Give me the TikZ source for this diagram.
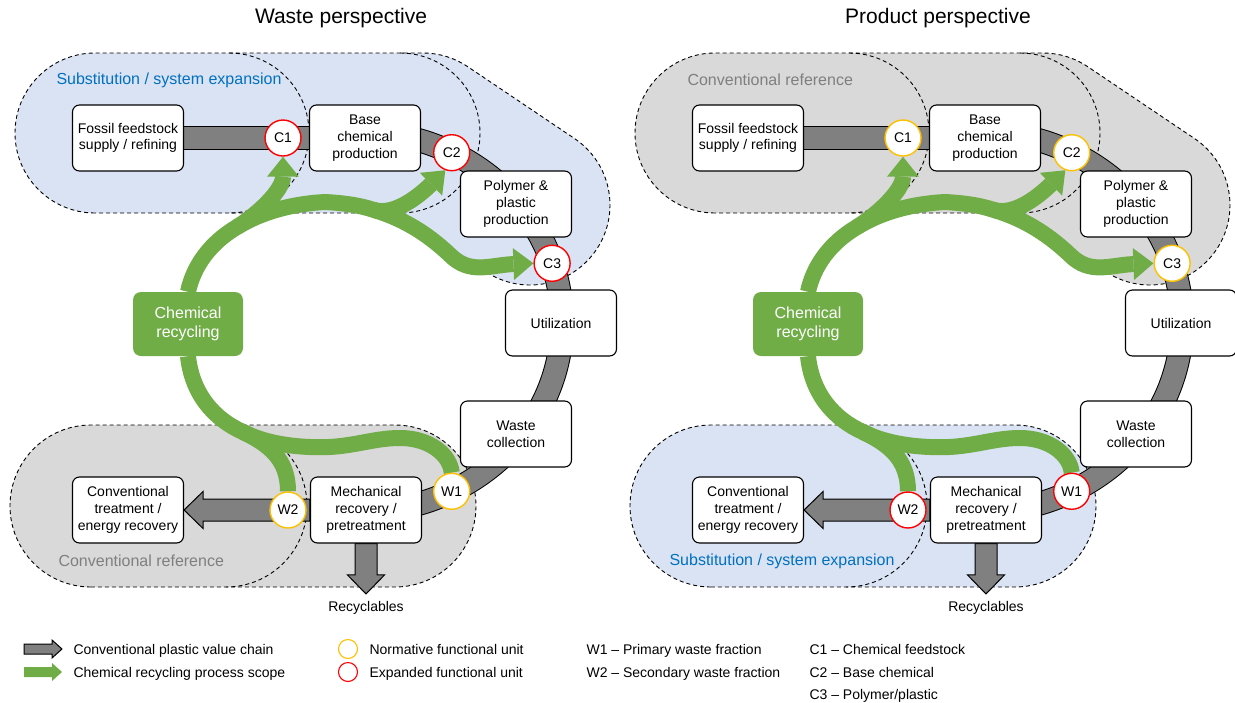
\documentclass[tikz,border=0pt]{standalone}
\usepackage{fontspec}
\setmainfont{Liberation Sans}
\usetikzlibrary{calc,arrows.meta}
\definecolor{subblue}{RGB}{218,227,243}
\definecolor{refgray}{RGB}{217,217,217}
\definecolor{labelblue}{RGB}{0,112,192}
\definecolor{labelgray}{RGB}{127,127,127}
\definecolor{chaingray}{RGB}{128,128,128}
\definecolor{recgreen}{RGB}{112,173,71}
\definecolor{normorange}{RGB}{255,192,0}
\definecolor{expred}{RGB}{255,0,0}
\pgfdeclarelayer{zones}
\pgfdeclarelayer{flows}
\pgfsetlayers{zones,flows,main}
\tikzset{
	stepbox/.style={draw, fill=white, line width=1.1pt, rounded corners=7pt, minimum width=111pt, minimum height=66pt, align=center, inner sep=1pt},
	crbox/.style={fill=recgreen, rounded corners=8pt, minimum width=110pt, minimum height=64pt, align=center, text=white, font=\fontsize{16}{19}\selectfont},
	unit/.style={circle, fill=white, line width=1.4pt, minimum size=36pt, inner sep=0pt},
	zoneline/.style={draw=black, dash pattern=on 4pt off 3pt, line width=0.9pt},
	chain/.style={draw=black, line width=1pt, double=chaingray, double distance=22pt},
	chainarrow/.style={draw=black, line width=1pt, fill=chaingray, line join=miter},
	crflow/.style={draw=recgreen, line width=16pt},
	crtip/.style={-{Triangle[length=20pt, width=32pt, line width=0pt]}},
	zonelabel/.style={anchor=west, font=\fontsize{16}{19}\selectfont},
	legendtext/.style={anchor=base west}
}
\newcommand{\perspective}{%
	\node[stepbox] (fossil) at (128,138) {Fossil feedstock\\supply / refining};
	\node[stepbox] (base) at (365,138) {Base\\chemical\\production};
	\node[stepbox] (poly) at (516,204) {Polymer \&\\plastic\\production};
	\node[stepbox] (util) at (561,323) {Utilization};
	\node[stepbox] (waste) at (516,434) {Waste\\collection};
	\node[stepbox] (mech) at (366,510) {Mechanical\\recovery /\\pretreatment};
	\node[stepbox] (conv) at (128,510) {Conventional\\treatment /\\energy recovery};
	\node[crbox] (chem) at (188,324) {Chemical\\recycling};
	\node (rec) at (366,608) {Recyclables};
	\coordinate (hub) at (360,322);
	\node[cunit] (c1) at (283,138) {C1};
	\node[cunit] (c2) at ($(hub)+(-63:202 and 190)$) {C2};
	\node[cunit] (c3) at ($(hub)+(-18:202 and 190)$) {C3};
	\node[wunit] (w1) at ($(hub)+(63:202 and 190)$) {W1};
	\node[wunit] (w2) at (288,510) {W2};
	\begin{pgfonlayer}{zones}
		\draw[zoneline, topzone] (95,213) arc[start angle=90, end angle=270, radius=80]
			-- (423,53) arc[start angle=270, end angle=303.9, radius=80]
			-- (574.6,138.6) arc[start angle=303.9, end angle=483.9, radius=80]
			-- (399,213) -- cycle;
		\draw[zoneline] (229,53) arc[start angle=270, end angle=450, radius=80];
		\draw[zoneline] (400,53) arc[start angle=270, end angle=450, radius=80];
		\draw[zoneline, botzone] (91,587) arc[start angle=90, end angle=270, radius=81]
			-- (395,425) arc[start angle=270, end angle=450, radius=81] -- cycle;
		\draw[zoneline] (226,425) arc[start angle=270, end angle=450, radius=81];
	\end{pgfonlayer}
	\begin{pgfonlayer}{flows}
		\draw[chain] (fossil.center) -- (base.center);
		\draw[chain] ($(hub)+(0,-190)$) arc[start angle=-90, end angle=90, x radius=202, y radius=190];
		\draw[chainarrow] ($(mech.west)+(0,-11)$) -- ($(conv.east)+(19,-11)$) -- ++(0,-7.5)
			-- (conv.east) -- ++(19,18.5) -- ++(0,-7.5) -- ($(mech.west)+(0,11)$) -- cycle;
		\draw[chainarrow] ($(mech.south)+(-11,0)$) -- ($(rec.north)+(-11,-23)$) -- ++(-7.5,0)
			-- ($(rec.north)+(0,-4)$) -- ++(18.5,-19) -- ++(-7.5,0) -- ($(mech.south)+(11,0)$) -- cycle;
		\draw[crflow, crtip] (chem.north) .. controls (193.5,266) and (210,243) .. (237,227) coordinate (fork1)
			.. controls (260,213) and (289,204) .. (325,202)
			.. controls (343,203) and (359,205) .. (374,210) coordinate (fork2)
			.. controls (408,220) and (432,238) .. (450,255)
			.. controls (470,275) and (490,265) .. (c3.west);
		\draw[crflow, crtip] (fork1) .. controls (258,214) and (283,190) .. (c1.south);
		\draw[crflow, crtip] (fork2) .. controls (395,216) and (420,195) .. (c2.250);
		\draw[crflow] (w1.north) .. controls (450,455) and (430,438) .. (400,438)
			.. controls (370,438) and (350,449) .. (310,447)
			.. controls (286,446) and (263,442) .. (243,432) coordinate (fork3)
			.. controls (214,419) and (192,394) .. (chem.south);
		\draw[crflow] (w2.north) .. controls (288,460) and (270,445) .. (fork3);
	\end{pgfonlayer}
}
\begin{document}
\begin{tikzpicture}[x=1pt, y=-1pt, font=\fontsize{14}{16.7}\selectfont]
	\useasboundingbox (0,0) rectangle (1235,702);
	\node[font=\fontsize{21}{25}\selectfont] (wtitle) at (341,18) {Waste perspective};
	\node[font=\fontsize{21}{25}\selectfont] (ptitle) at (938,18) {Product perspective};
	% waste perspective
	\begin{scope}[name prefix=W-, topzone/.style={fill=subblue}, botzone/.style={fill=refgray},
		cunit/.style={unit, draw=expred}, wunit/.style={unit, draw=normorange}]
		\perspective
		\node[zonelabel, text=labelblue] (toplabel) at (53,80) {Substitution / system expansion};
		\node[zonelabel, text=labelgray] (botlabel) at (55,561) {Conventional reference};
	\end{scope}
	% product perspective
	\begin{scope}[xshift=620pt, name prefix=P-, topzone/.style={fill=refgray}, botzone/.style={fill=subblue},
		cunit/.style={unit, draw=normorange}, wunit/.style={unit, draw=expred}]
		\perspective
		\node[zonelabel, text=labelgray] (toplabel) at (64,80) {Conventional reference};
		\node[zonelabel, text=labelblue] (botlabel) at (46,561) {Substitution / system expansion};
	\end{scope}
	% legend
	\draw[chainarrow] (24,644) -- (52,644) -- (52,640) -- (62,649) -- (52,658) -- (52,654) -- (24,654) -- cycle;
	\fill[recgreen] (24,667) -- (52,667) -- (52,663) -- (62,672) -- (52,681) -- (52,677) -- (24,677) -- cycle;
	\node[legendtext] (lgchain) at (70,654) {Conventional plastic value chain};
	\node[legendtext] (lgflow) at (70,677) {Chemical recycling process scope};
	\node[unit, draw=normorange, minimum size=19pt, line width=1.1pt] (lgnorm) at (348,649) {};
	\node[unit, draw=expred, minimum size=19pt, line width=1.1pt] (lgexp) at (348,672) {};
	\node[legendtext] (lgnormtext) at (366,654) {Normative functional unit};
	\node[legendtext] (lgexptext) at (366,677) {Expanded functional unit};
	\node[legendtext] (lgwone) at (583,654) {W1 -- Primary waste fraction};
	\node[legendtext] (lgwtwo) at (583,677) {W2 -- Secondary waste fraction};
	\node[legendtext] (lgcone) at (806,654) {C1 -- Chemical feedstock};
	\node[legendtext] (lgctwo) at (806,677) {C2 -- Base chemical};
	\node[legendtext] (lgcthree) at (806,699) {C3 -- Polymer/plastic};
\end{tikzpicture}
\end{document}
